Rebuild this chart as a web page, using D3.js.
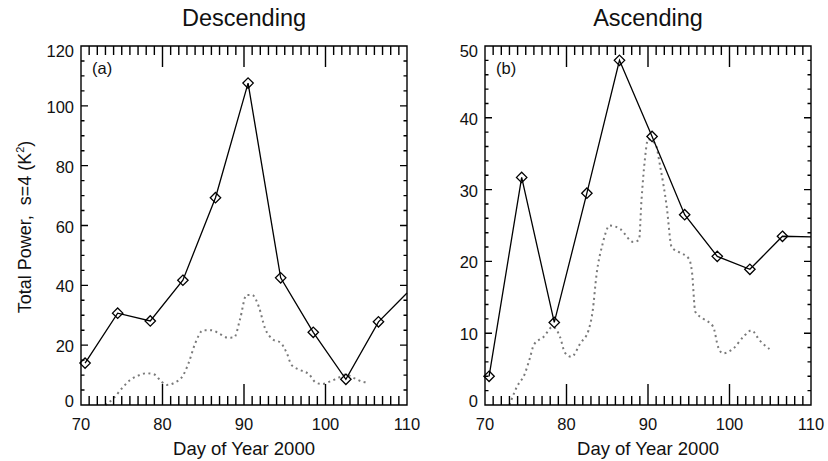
<!DOCTYPE html>
<html>
<head>
<meta charset="utf-8">
<script src="https://cdn.jsdelivr.net/npm/d3@7"></script>
<style>
  body { margin: 0; background: #fff; }
  text { font-family: "Liberation Sans", Arial, Helvetica, sans-serif; fill: #111; }
</style>
</head>
<body>
<script>
//data
const days = [70.5, 74.5, 78.5, 82.5, 86.5, 90.5, 94.5, 98.5, 102.5, 106.5, 110.5];
const descPower = [14, 30.7, 28.1, 41.7, 69.3, 107.6, 42.5, 24.3, 8.6, 27.8, 38.8];
const ascPower = [4.0, 31.7, 11.5, 29.5, 48.0, 37.4, 26.5, 20.7, 18.9, 23.5, 23.4];

const descDotDays = [73, 74, 75, 76, 77, 78, 79, 79.8, 80.5, 81.5, 82.5, 83.2, 84, 85, 86, 87, 88, 88.8, 89.5, 90.3, 91, 91.8, 92.6, 93.5, 94.5, 95.3, 95.8, 96.8, 98, 98.8, 99.6, 100.5, 101.5, 102.5, 103.5, 104.5, 105.1];
const descDotVals = [0, 2.3, 5.5, 8.3, 9.8, 10.6, 10.2, 8.0, 6.7, 7.5, 9.8, 14, 20.5, 25, 25, 23.8, 22.5, 22.6, 28.5, 36.8, 36.8, 33, 25.5, 22, 20.8, 17, 13.5, 11.8, 10.2, 7.5, 7, 7.8, 9, 10.2, 9, 7.8, 7.5];

const ascDotDays = [73, 73.9, 74.9, 75.5, 76, 77.2, 78.3, 79.2, 79.8, 80.6, 81.7, 82.7, 83.2, 83.7, 84.4, 85.3, 86.6, 88.2, 88.9, 89.2, 89.6, 90, 90.9, 91.5, 92.3, 92.9, 93.8, 95, 95.4, 95.8, 96.8, 98, 98.6, 99.2, 100.5, 101.7, 102.7, 103.7, 104.9];
const ascDotVals = [0, 2.5, 4.4, 6.5, 8.4, 9.5, 10.9, 9.5, 7.3, 6.7, 8.6, 10.4, 13, 18.3, 22.3, 25, 24.5, 22.7, 23, 28.5, 34, 37, 36.4, 33.2, 27.6, 22, 21.3, 20.4, 18.5, 13, 12, 10.9, 8.1, 7.2, 7.9, 9.5, 10.4, 9.0, 7.8];

const xTicks = [70, 80, 90, 100, 110];
const descTicks = [0, 20, 40, 60, 80, 100, 120];
const ascTicks = [0, 10, 20, 30, 40, 50];

let width = 828;
let height = 461;
let plotTop = 46, plotBottom = 405;

let svg = d3.select('body')
    .append('svg')
    .attr('width', width)
    .attr('height', height);

let tickGroups = [];

const drawPanel = (opts) => {
    let g = svg.append('g');
    let x = d3.scaleLinear().domain([70, 110]).range([opts.left, opts.right]);
    let y = d3.scaleLinear().domain([0, opts.ymax]).range([plotBottom, plotTop]);

    //frame plus the comb of inward ticks, built as one outline path
    let fp = d3.path();
    fp.moveTo(opts.left, plotTop);
    fp.lineTo(opts.right, plotTop);
    fp.lineTo(opts.right, plotBottom);
    fp.lineTo(opts.left, plotBottom);
    fp.closePath();
    d3.range(71, 110, 1).forEach(d => {
        let len = d % 10 === 0 ? 21 : 9;
        fp.moveTo(x(d), plotBottom); fp.lineTo(x(d), plotBottom - len);
        fp.moveTo(x(d), plotTop); fp.lineTo(x(d), plotTop + len);
    });
    d3.range(opts.yMinorStep, opts.ymax, opts.yMinorStep).forEach(d => {
        let len = d % opts.yMajorStep === 0 ? 7 : 3.5;
        fp.moveTo(opts.left, y(d)); fp.lineTo(opts.left + len, y(d));
        fp.moveTo(opts.right, y(d)); fp.lineTo(opts.right - len, y(d));
    });
    tickGroups.push(fp.toString());

    //tick labels
    g.append('g').selectAll('text')
        .data(xTicks)
        .enter()
        .append('text')
        .attr('x', d => x(d))
        .attr('y', 430)
        .attr('text-anchor', 'middle')
        .style('font-size', '16.5px')
        .text(d => d);

    let last = opts.ticks[opts.ticks.length - 1];
    g.append('g').selectAll('text')
        .data(opts.ticks)
        .enter()
        .append('text')
        .attr('x', opts.left - 7)
        .attr('y', d => y(d) + 7 + (d === 0 ? -5 : 0) + (d === last ? 4 : 0))
        .attr('text-anchor', 'end')
        .style('font-size', '16.5px')
        .text(d => d);

    //titles
    g.append('text')
        .attr('x', (opts.left + opts.right) / 2)
        .attr('y', 26)
        .attr('text-anchor', 'middle')
        .style('font-size', '23.5px')
        .text(opts.title);

    g.append('text')
        .attr('x', (opts.left + opts.right) / 2)
        .attr('y', 455)
        .attr('text-anchor', 'middle')
        .style('font-size', '18.5px')
        .text('Day of Year 2000');

    g.append('text')
        .attr('x', opts.left + 11)
        .attr('y', 74)
        .style('font-size', '16.5px')
        .text(opts.tag);

    //dotted curve, cut at the frame by the domain check
    let dotLine = d3.line()
        .x((d, i) => x(opts.dotDays[i]))
        .y(d => y(d))
        .curve(d3.curveMonotoneX);

    g.append('path')
        .datum(opts.dotVals)
        .attr('d', dotLine)
        .attr('fill', 'none')
        .attr('stroke', '#7a7a7a')
        .attr('stroke-width', 2)
        .attr('stroke-dasharray', '2,3.5');

    //solid line, last segment stopped at day 110
    let pts = days.map((d, i) => [d, opts.vals[i]]);
    let n = pts.length;
    let a = pts[n - 2], b = pts[n - 1];
    let edgeVal = a[1] + (b[1] - a[1]) * (110 - a[0]) / (b[0] - a[0]);
    let shown = pts.slice(0, n - 1).concat([[110, edgeVal]]);

    let line = d3.line()
        .x(d => x(d[0]))
        .y(d => y(d[1]));

    g.append('path')
        .datum(shown)
        .attr('d', line)
        .attr('fill', 'none')
        .attr('stroke', '#000')
        .attr('stroke-width', 1.3);

    let s = 5.2;
    g.append('g').selectAll('path')
        .data(pts.filter(d => d[0] <= 110))
        .enter()
        .append('path')
        .attr('transform', d => `translate(${x(d[0])}, ${y(d[1])})`)
        .attr('d', `M0,${-s}L${s},0L0,${s}L${-s},0Z`)
        .attr('fill', 'none')
        .attr('stroke', '#000')
        .attr('stroke-width', 1.3);
};

drawPanel({
    id: 'a', tag: '(a)', title: 'Descending', left: 81, right: 407, ymax: 120,
    ticks: descTicks, yMinorStep: 5, yMajorStep: 20,
    vals: descPower, dotDays: descDotDays, dotVals: descDotVals
});

drawPanel({
    id: 'b', tag: '(b)', title: 'Ascending', left: 485, right: 811, ymax: 50,
    ticks: ascTicks, yMinorStep: 2, yMajorStep: 10,
    vals: ascPower, dotDays: ascDotDays, dotVals: ascDotVals
});

//frames and ticks, drawn last so nothing covers them
svg.append('g')
    .selectAll('path')
    .data(tickGroups)
    .enter()
    .append('path')
    .attr('d', d => d)
    .attr('fill', 'none')
    .attr('stroke', '#000')
    .attr('stroke-width', 1.4);

//y label
let ylab = svg.append('text')
    .attr('transform', `translate(31, 227) rotate(-90)`)
    .attr('text-anchor', 'middle')
    .style('white-space', 'pre')
    .style('font-size', '18px');
ylab.append('tspan').text('Total Power,  s=4 (K');
ylab.append('tspan').attr('dy', -7).style('font-size', '11px').text('2');
ylab.append('tspan').attr('dy', 7).text(')');
</script>
</body>
</html>
